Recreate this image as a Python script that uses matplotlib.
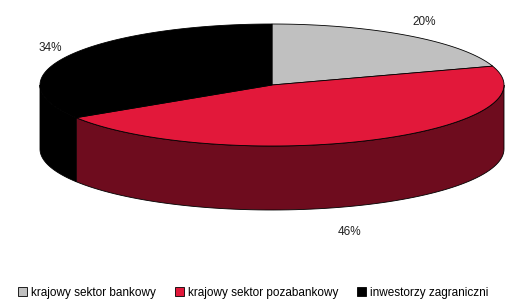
import numpy as np
from matplotlib import pyplot as plt
from matplotlib.patches import Polygon, Patch

# data
labels = ["krajowy sektor bankowy", "krajowy sektor pozabankowy", "inwestorzy zagraniczni"]
shares = [20, 46, 34]
top_colors = ["#C0C0C0", "#E2183A", "#000000"]
side_colors = ["#8A8A8A", "#6E0C1E", "#000000"]
pct_labels = ["20%", "46%", "34%"]

plt.rcParams['font.family'] = ['Liberation Sans', 'DejaVu Sans']

fig = plt.figure(figsize=(5.06, 3.02), dpi=100)
ax = fig.add_axes([0, 0, 1, 1])
ax.set_xlim(0, 506)
ax.set_ylim(302, 0)
ax.axis('off')

# ellipse geometry of the 3d pie (pixels)
cx, cy = 272, 85
a, b = 232, 61
depth = 64


def pt(theta, dy=0):
    return cx + a * np.cos(theta), cy - b * np.sin(theta) + dy


# slice angles, clockwise from 12 o'clock
fracs = np.array(shares) / sum(shares)
starts = np.pi / 2 - 2 * np.pi * np.concatenate([[0], np.cumsum(fracs)[:-1]])
ends = starts - 2 * np.pi * fracs

# front walls first
for s, e, col in zip(starts, ends, side_colors):
    # visible front is where sin(theta) < 0, i.e. theta in (-pi, 0) mod 2pi
    lo, hi = e, s
    for k in range(-1, 2):
        f_lo, f_hi = -np.pi + 2 * np.pi * k, 0 + 2 * np.pi * k
        l2, h2 = max(lo, f_lo), min(hi, f_hi)
        if h2 > l2:
            th = np.linspace(l2, h2, 80)
            top = [pt(t) for t in th]
            bot = [pt(t, depth) for t in th[::-1]]
            ax.add_patch(Polygon(top + bot, closed=True, facecolor=col,
                                 edgecolor='black', linewidth=0.6))

# top faces
for s, e, col in zip(starts, ends, top_colors):
    th = np.linspace(s, e, 120)
    verts = [(cx, cy)] + [pt(t) for t in th]
    ax.add_patch(Polygon(verts, closed=True, facecolor=col,
                         edgecolor='black', linewidth=0.6))

# percentage labels
label_pos = [(424, 22), (350, 232), (50, 48)]
for txt, (x, y) in zip(pct_labels, label_pos):
    ax.text(x, y, txt, ha='center', va='center', fontsize=8.5, color='#222222')

handles = [Patch(facecolor=c, edgecolor='black', linewidth=0.6) for c in top_colors]
ax.legend(handles, labels, loc='lower center', bbox_to_anchor=(0.5, -0.025), ncol=3,
          frameon=False, fontsize=8.5, handlelength=0.8, handleheight=0.8,
          handletextpad=0.3, columnspacing=1.6)

fig.savefig("out.png", dpi=100)
